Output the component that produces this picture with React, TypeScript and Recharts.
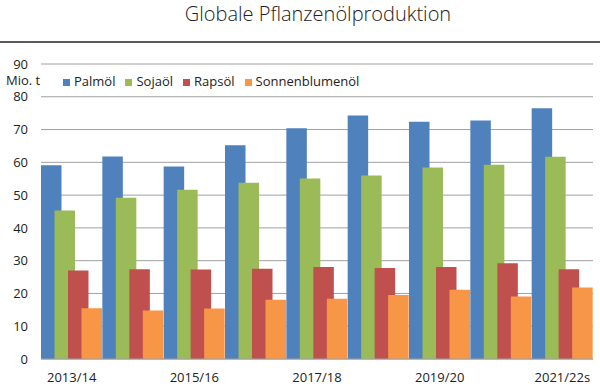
import React from 'react';
import { BarChart, Bar, XAxis, YAxis, CartesianGrid, Legend } from 'recharts';

const seasons = ['2013/14', '2014/15', '2015/16', '2016/17', '2017/18', '2018/19', '2019/20', '2020/21', '2021/22s'];
const palmoel = [59.1, 61.8, 58.7, 65.2, 70.4, 74.3, 72.4, 72.8, 76.5];
const sojaoel = [45.3, 49.2, 51.6, 53.8, 55.1, 56.0, 58.4, 59.3, 61.7];
const rapsoel = [27.0, 27.4, 27.3, 27.5, 28.1, 27.8, 28.1, 29.2, 27.4];
const sonnenblumenoel = [15.5, 14.8, 15.4, 18.1, 18.4, 19.5, 21.1, 19.1, 21.8];
const yTicks = [0, 10, 20, 30, 40, 50, 60, 70, 80, 90];
const edgeTicks = [0, 1, 2, 3, 4, 5, 6, 7, 8, 9];
const seriesOrder = ['palm', 'soja', 'raps', 'sonne'];

const data = seasons.map((s, i) => ({
    season: s,
    palm: palmoel[i],
    soja: sojaoel[i],
    raps: rapsoel[i],
    sonne: sonnenblumenoel[i],
}));

const font = '"Open Sans", sans-serif';
const textColor = '#222';
const gridColor = '#a0a0a0';

const App: React.FC = () => {
    return (
        <div style={{ position: 'absolute', left: 0, top: 0, width: 600, height: 387, background: '#fff', fontFamily: font }}>
            <div style={{ position: 'absolute', left: 0, top: 0, width: 636, textAlign: 'center', fontSize: 20, fontWeight: 300, color: textColor }}>
                Globale Pflanzenölproduktion
            </div>
            <div style={{ position: 'absolute', left: 0, top: 41, width: 600, height: 2, background: '#5a5a5a' }} />
            <div style={{ position: 'absolute', left: 6, top: 74, fontSize: 13, lineHeight: '13px', color: textColor }}>Mio. t</div>
            <BarChart
                width={600}
                height={387}
                data={data}
                margin={{ top: 64, right: 7, left: 0, bottom: 0 }}
                barCategoryGap={0}
                barGap={-7}
                barSize={20.5}
                style={{ position: 'absolute', left: 0, top: 0 }}
            >
                <CartesianGrid vertical={false} stroke={gridColor} xAxisId="lbl" />
                {/* boundary tick marks between seasons */}
                <XAxis
                    xAxisId={0}
                    type="number"
                    domain={[0, 9]}
                    ticks={edgeTicks}
                    height={0}
                    axisLine={false}
                    tickSize={4}
                    tickLine={{ stroke: gridColor }}
                    tickFormatter={() => ''}
                />
                <XAxis
                    xAxisId="lbl"
                    dataKey="season"
                    height={28}
                    interval={1}
                    tickLine={false}
                    tickSize={0}
                    tickMargin={14}
                    axisLine={{ stroke: gridColor }}
                    tick={{ fill: textColor, fontSize: 13, fontFamily: font }}
                />
                <YAxis
                    domain={[0, 90]}
                    ticks={yTicks}
                    width={41}
                    axisLine={false}
                    tickLine={false}
                    tickSize={0}
                    tickMargin={13}
                    tick={{ fill: textColor, fontSize: 13, fontFamily: font }}
                />
                <Legend
                    layout="horizontal"
                    verticalAlign="middle"
                    align="center"
                    iconType="square"
                    iconSize={7}
                    itemSorter={(item: any) => seriesOrder.indexOf(item.dataKey)}
                    wrapperStyle={{ top: 72, left: 63, width: 'auto', height: 'auto', fontSize: 13, lineHeight: '18px', fontFamily: font }}
                    formatter={(value: string) => <span style={{ color: textColor }}>{value}</span>}
                />
                <Bar xAxisId="lbl" dataKey="palm" name="Palmöl" fill="#4f81bd" isAnimationActive={false} />
                <Bar xAxisId="lbl" dataKey="soja" name="Sojaöl" fill="#9bbb59" isAnimationActive={false} />
                <Bar xAxisId="lbl" dataKey="raps" name="Rapsöl" fill="#c0504d" isAnimationActive={false} />
                <Bar xAxisId="lbl" dataKey="sonne" name="Sonnenblumenöl" fill="#f79646" isAnimationActive={false} />
            </BarChart>
        </div>
    );
};

export default App;
